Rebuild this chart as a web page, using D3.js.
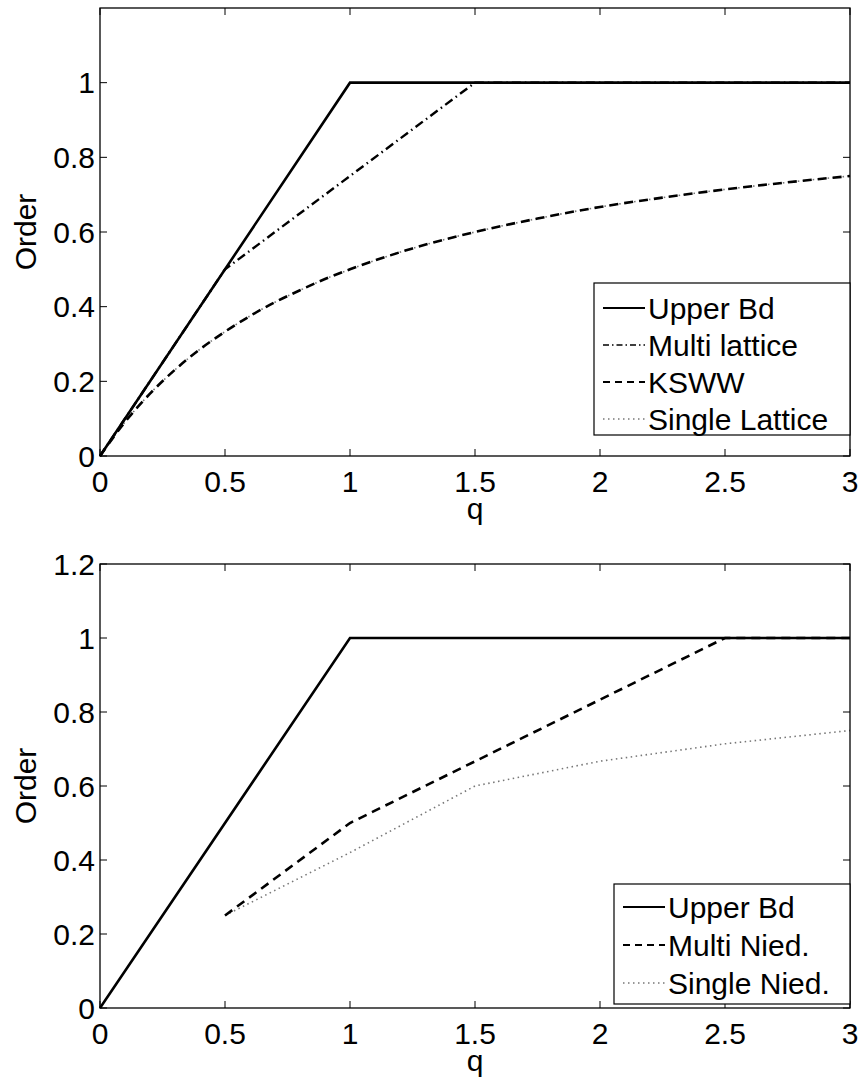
<!DOCTYPE html>
<html lang="en">
<head>
	<meta charset="UTF-8">
	<title>Order vs q</title>
	<style>
		body { margin: 0; background: #fff; }
		svg { display: block; }
		text { font-family: "Liberation Sans", Arial, Helvetica, sans-serif; fill: #000; }
	</style>
</head>
<body>

	<script src="https://d3js.org/d3.v7.min.js" charset="utf-8"></script>
	<script>
		// top panel
		var upperQ = [0, 1, 3],
			upperVal = [0, 1, 1];
		var multiLatticeQ = [0, 0.5, 1.5, 3],
			multiLatticeVal = [0, 0.5, 1, 1];
		var curveQ = [0, 0.1, 0.2, 0.3, 0.4, 0.5, 0.6, 0.7, 0.8, 0.9, 1, 1.25, 1.5, 1.75, 2, 2.25, 2.5, 2.75, 3],
			kswwVal = [0, 0.091, 0.167, 0.231, 0.286, 0.333, 0.375, 0.412, 0.444, 0.474, 0.5, 0.556, 0.6, 0.636, 0.667, 0.692, 0.714, 0.733, 0.75],
			singleLatticeVal = [0, 0.091, 0.167, 0.231, 0.286, 0.333, 0.375, 0.412, 0.444, 0.474, 0.5, 0.556, 0.6, 0.636, 0.667, 0.692, 0.714, 0.733, 0.75];

		// bottom panel
		var multiNiedQ = [0.5, 1, 2.5, 3],
			multiNiedVal = [0.25, 0.5, 1, 1];
		var singleNiedQ = [0.5, 1, 1.5, 2, 2.5, 3],
			singleNiedVal = [0.25, 0.42, 0.6, 0.667, 0.714, 0.75];

		var xTicks = [0, 0.5, 1, 1.5, 2, 2.5, 3],
			xTickLabels = ["0", "0.5", "1", "1.5", "2", "2.5", "3"];
		var yTicksTop = [0, 0.2, 0.4, 0.6, 0.8, 1],
			yTicksBottom = [0, 0.2, 0.4, 0.6, 0.8, 1, 1.2];

		var styles = {
			solid: {stroke: "#000", width: 2.6, dash: null},
			dashdot: {stroke: "#000", width: 2.4, dash: "9,4,1.5,4"},
			dashed: {stroke: "#000", width: 2.6, dash: "9,6"},
			dotted: {stroke: "#777", width: 1.6, dash: "1.5,3.5"}
		};
		var fs = "30px";

		function zip(qs, vs) {
			return qs.map(function(q, i) { return [q, vs[i]]; });
		}

		var w = 862, h = 1080;
		var svg = d3.select("body").append("svg")
			.attr("width", w)
			.attr("height", h);

		function panel(top, bottom, yTicks, series, legend) {
			var x = d3.scaleLinear().domain([0, 3]).range([100, 850]);
			var y = d3.scaleLinear().domain([0, 1.2]).range([bottom, top]);
			var g = svg.append("g");
			var tl = 7;

			var line = d3.line()
				.x(function(d) { return x(d[0]); })
				.y(function(d) { return y(d[1]); });

			series.forEach(function(s) {
				var st = styles[s.style];
				g.append("path")
					.datum(zip(s.q, s.v))
					.attr("fill", "none")
					.attr("stroke", st.stroke)
					.attr("stroke-width", st.width)
					.attr("stroke-dasharray", st.dash)
					.attr("d", line.curve(s.smooth ? d3.curveMonotoneX : d3.curveLinear));
			});

			// box
			g.append("rect")
				.attr("x", x(0)).attr("y", top)
				.attr("width", x(3) - x(0)).attr("height", bottom - top)
				.attr("fill", "none").attr("stroke", "#000").attr("stroke-width", 1.3);

			// inward ticks on all sides
			xTicks.forEach(function(t) {
				g.append("line").attr("x1", x(t)).attr("x2", x(t)).attr("y1", bottom).attr("y2", bottom - tl).attr("stroke", "#000");
				g.append("line").attr("x1", x(t)).attr("x2", x(t)).attr("y1", top).attr("y2", top + tl).attr("stroke", "#000");
			});
			yTicks.forEach(function(t) {
				g.append("line").attr("x1", x(0)).attr("x2", x(0) + tl).attr("y1", y(t)).attr("y2", y(t)).attr("stroke", "#000");
				g.append("line").attr("x1", x(3)).attr("x2", x(3) - tl).attr("y1", y(t)).attr("y2", y(t)).attr("stroke", "#000");
			});

			g.selectAll("text.xt")
				.data(xTicks)
				.enter().append("text")
				.attr("class", "xt")
				.attr("x", function(d) { return x(d); })
				.attr("y", bottom + 36)
				.attr("text-anchor", "middle")
				.attr("font-size", fs)
				.text(function(d, i) { return xTickLabels[i]; });

			g.selectAll("text.yt")
				.data(yTicks)
				.enter().append("text")
				.attr("class", "yt")
				.attr("x", 95)
				.attr("y", function(d) { return y(d); })
				.attr("dy", "0.36em")
				.attr("text-anchor", "end")
				.attr("font-size", fs)
				.text(function(d) { return d3.format("~g")(d); });

			g.append("text")
				.attr("x", x(1.5))
				.attr("y", bottom + 63)
				.attr("text-anchor", "middle")
				.attr("font-size", fs)
				.text("q");

			g.append("text")
				.attr("transform", "translate(36," + ((top + bottom) / 2) + ") rotate(-90)")
				.attr("text-anchor", "middle")
				.attr("font-size", fs)
				.text("Order");

			// legend
			var lg = g.append("g");
			lg.append("rect")
				.attr("x", legend.x).attr("y", legend.y)
				.attr("width", legend.w).attr("height", legend.h)
				.attr("fill", "#fff").attr("stroke", "#000").attr("stroke-width", 1.2);
			legend.items.forEach(function(it, i) {
				var cy = legend.y + legend.first + i * legend.step;
				var st = styles[it.style];
				lg.append("line")
					.attr("x1", legend.x + 9).attr("x2", legend.x + 51)
					.attr("y1", cy).attr("y2", cy)
					.attr("stroke", st.stroke)
					.attr("stroke-width", it.style === "dotted" ? 1.4 : (it.style === "dashdot" ? 1.4 : 2.2))
					.attr("stroke-dasharray", it.style === "dashed" ? "7,5" : (it.style === "dashdot" ? "6,3,1.5,3" : st.dash));
				lg.append("text")
					.attr("x", legend.x + 54)
					.attr("y", cy)
					.attr("dy", "0.36em")
					.attr("font-size", fs)
					.text(it.label);
			});
		}

		panel(8, 456, yTicksTop, [
			{q: curveQ, v: singleLatticeVal, style: "dotted", smooth: true},
			{q: curveQ, v: kswwVal, style: "dashed", smooth: true},
			{q: multiLatticeQ, v: multiLatticeVal, style: "dashdot"},
			{q: upperQ, v: upperVal, style: "solid"}
		], {
			x: 594, y: 283, w: 256, h: 152, first: 25, step: 37,
			items: [
				{label: "Upper Bd", style: "solid"},
				{label: "Multi lattice", style: "dashdot"},
				{label: "KSWW", style: "dashed"},
				{label: "Single Lattice", style: "dotted"}
			]
		});

		panel(564, 1008, yTicksBottom, [
			{q: singleNiedQ, v: singleNiedVal, style: "dotted"},
			{q: multiNiedQ, v: multiNiedVal, style: "dashed"},
			{q: upperQ, v: upperVal, style: "solid"}
		], {
			x: 614, y: 884, w: 236, h: 120, first: 23, step: 38,
			items: [
				{label: "Upper Bd", style: "solid"},
				{label: "Multi Nied.", style: "dashed"},
				{label: "Single Nied.", style: "dotted"}
			]
		});
	</script>
</body>
</html>
